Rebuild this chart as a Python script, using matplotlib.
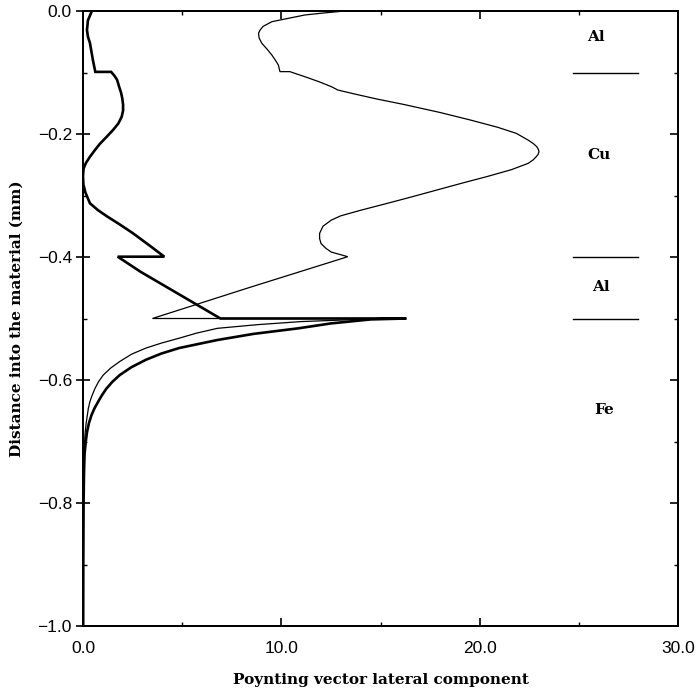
import matplotlib
matplotlib.use("Agg")
import matplotlib.pyplot as plt
from matplotlib.ticker import MultipleLocator, FixedLocator, NullFormatter

# ---- data (depth in mm, Poynting vector lateral component) ----
thin_depth = [0.0, -0.003, -0.0065, -0.0174, -0.025, -0.031, -0.036, -0.044, -0.0526,
              -0.062, -0.0715, -0.080, -0.0878, -0.0986, -0.0986, -0.107, -0.115, -0.123,
              -0.1285, -0.135, -0.143, -0.152, -0.165, -0.177, -0.189, -0.199, -0.210,
              -0.2155, -0.2206, -0.225, -0.2287, -0.233, -0.237, -0.242, -0.2477, -0.258,
              -0.2694, -0.280, -0.291, -0.302,
              -0.3127, -0.324, -0.333, -0.340, -0.350, -0.3615, -0.370, -0.378, -0.386,
              -0.392, -0.3995, -0.449, -0.500, -0.500, -0.502, -0.505, -0.510, -0.516,
              -0.524, -0.532, -0.540, -0.548, -0.558, -0.570, -0.581, -0.592, -0.603,
              -0.614, -0.625, -0.635, -0.646, -0.657, -0.670, -0.685, -0.70, -0.72,
              -0.75, -0.80, -0.90, -1.00]
thin_value = [13.2, 12.2, 11.18, 9.52, 9.08, 8.93, 8.85, 8.88, 9.02,
              9.28, 9.52, 9.70, 9.85, 9.93, 10.43, 11.2, 11.9, 12.52,
              12.85, 13.7, 14.8, 16.18, 18.0, 19.5, 20.9, 21.85, 22.45,
              22.7, 22.88, 22.96, 22.99, 22.95, 22.85, 22.7, 22.45, 21.6,
              20.35, 19.1, 17.85, 16.6,
              15.35, 14.0, 13.0, 12.52, 12.1, 11.93, 11.93, 12.0, 12.25,
              12.52, 13.35, 8.45, 3.5, 16.3, 13.5, 11.0, 8.8, 6.77,
              5.7, 4.85, 3.95, 3.18, 2.45, 1.85, 1.38, 1.02, 0.78,
              0.60, 0.46, 0.35, 0.27, 0.22, 0.16, 0.11, 0.08, 0.05,
              0.03, 0.02, 0.01, 0.0]

thick_depth = [0.0, -0.015, -0.031, -0.042, -0.052, -0.065, -0.080, -0.099, -0.099,
               -0.106, -0.112, -0.123, -0.133, -0.142, -0.152, -0.162, -0.172, -0.183,
               -0.194, -0.205, -0.216, -0.227, -0.237, -0.247, -0.256, -0.268, -0.282,
               -0.295, -0.3127, -0.3237, -0.3337, -0.347, -0.361, -0.380, -0.3995, -0.3995,
               -0.424, -0.500, -0.500, -0.5015, -0.508, -0.516, -0.525, -0.535, -0.548,
               -0.557, -0.567, -0.579, -0.592, -0.603, -0.614, -0.625, -0.635, -0.646,
               -0.657, -0.670, -0.685, -0.70, -0.72, -0.75, -0.80, -0.90, -1.00]
thick_value = [0.45, 0.25, 0.20, 0.25, 0.35, 0.42, 0.50, 0.62, 1.42,
               1.60, 1.72, 1.82, 1.92, 1.98, 2.02, 2.02, 1.95, 1.78,
               1.50, 1.18, 0.85, 0.58, 0.35, 0.15, 0.03, 0.0, 0.02,
               0.12, 0.35, 0.75, 1.20, 1.85, 2.50, 3.30, 4.10, 1.75,
               2.90, 6.93, 16.3, 14.5, 12.5, 10.85, 8.6, 6.77, 4.85,
               3.95, 3.18, 2.45, 1.85, 1.48, 1.18, 0.95, 0.77, 0.58,
               0.43, 0.30, 0.20, 0.14, 0.08, 0.05, 0.03, 0.015, 0.01]

layer_names = ["Al", "Cu", "Al", "Fe"]
layer_label_depth = [-0.042, -0.234, -0.448, -0.649]
layer_label_x = [25.85, 26.0, 26.1, 26.27]
interfaces = [-0.1, -0.4, -0.5]
interface_x = [24.7, 28.0]

x_ticks = [0.0, 10.0, 20.0, 30.0]
y_ticks = [0.0, -0.2, -0.4, -0.6, -0.8, -1.0]

# ---- figure ----
fig = plt.figure(figsize=(6.98, 6.98), dpi=100)
ax = fig.add_axes([83 / 698, 1 - 626 / 698, 595 / 698, 615 / 698])

ax.plot(thin_value, thin_depth, color="black", lw=0.9, solid_joinstyle="miter")
ax.plot(thick_value, thick_depth, color="black", lw=1.9, solid_joinstyle="miter")

for d in interfaces:
    ax.plot(interface_x, [d, d], color="black", lw=1.0)
for name, xx, d in zip(layer_names, layer_label_x, layer_label_depth):
    ax.text(xx, d, name, ha="center", va="center", fontsize=11,
            fontweight="bold", family="DejaVu Serif")

ax.set_xlim(0, 30)
ax.set_ylim(-1.0, 0.0)

ax.xaxis.set_major_locator(FixedLocator(x_ticks))
ax.xaxis.set_minor_locator(MultipleLocator(5))
ax.yaxis.set_major_locator(FixedLocator(y_ticks))
ax.yaxis.set_minor_locator(MultipleLocator(0.1))
ax.set_xticklabels([f"{v:.1f}" for v in x_ticks])
ax.set_yticklabels([f"{v:.1f}".replace("-", "\u2212") for v in y_ticks])

for s in ax.spines.values():
    s.set_linewidth(1.4)

ax.tick_params(axis="x", which="major", direction="in", length=6, width=1.2,
               top=True, pad=11, labelsize=12.5)
ax.tick_params(axis="x", which="minor", direction="in", length=3, width=1.0, top=True)
ax.tick_params(axis="y", which="major", direction="inout", length=10, width=1.2,
               right=False, pad=3, labelsize=12.5)
ax.tick_params(axis="y", which="minor", direction="in", length=3, width=1.0, right=False)

# right-hand ticks point inward
axr = ax.twinx()
axr.set_ylim(-1.0, 0.0)
axr.yaxis.set_major_locator(FixedLocator(y_ticks))
axr.yaxis.set_minor_locator(MultipleLocator(0.1))
axr.yaxis.set_major_formatter(NullFormatter())
axr.tick_params(axis="y", which="major", direction="in", length=6, width=1.2)
axr.tick_params(axis="y", which="minor", direction="in", length=3, width=1.0)
for s in axr.spines.values():
    s.set_linewidth(1.4)

for lab in ax.get_xticklabels() + ax.get_yticklabels():
    lab.set_family("Liberation Sans")

ax.set_xlabel("Poynting vector lateral component", fontsize=11, fontweight="bold",
              family="DejaVu Serif", labelpad=12)
ax.set_ylabel("Distance into the material (mm)", fontsize=11, fontweight="bold",
              family="DejaVu Serif", labelpad=10)

fig.savefig("out.png", dpi=100)
